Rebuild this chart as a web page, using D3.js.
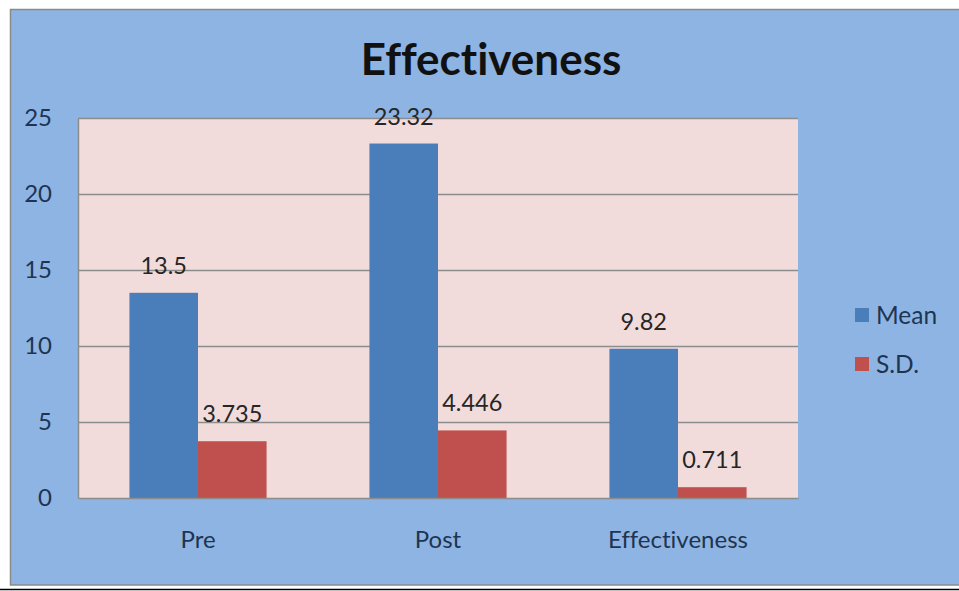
<!DOCTYPE html>
<html>
<head>
<meta charset="utf-8">
<script src="https://cdn.jsdelivr.net/npm/d3@7"></script>
<style>
  html, body { margin: 0; padding: 0; background: #fff; }
  svg { display: block; }
  text { font-family: Lato, "Open Sans", sans-serif; font-variant-ligatures: none; }
</style>
</head>
<body>
<svg id="chart" width="959" height="591"></svg>
<script>
const title = "Effectiveness";
const categories = ["Pre", "Post", "Effectiveness"];
const seriesNames = ["Mean", "S.D."];
const meanValues = [13.5, 23.32, 9.82];
const sdValues = [3.735, 4.446, 0.711];
const meanLabels = ["13.5", "23.32", "9.82"];
const sdLabels = ["3.735", "4.446", "0.711"];
const yTicks = [0, 5, 10, 15, 20, 25];

const colors = { "Mean": "#4A7EBB", "S.D.": "#C0504D" };
const seriesValues = { "Mean": meanValues, "S.D.": sdValues };
const seriesLabels = { "Mean": meanLabels, "S.D.": sdLabels };

const svg = d3.select("#chart");
const W = 959, H = 591;
const plot = { left: 78, right: 798, top: 118, bottom: 498 };

// outer chart background
svg.append("rect").attr("x", 10.5).attr("y", 9.5).attr("width", 960).attr("height", 575.5)
  .attr("fill", "#8EB4E3").attr("stroke", "#8A8A8A").attr("stroke-width", 1.5);
svg.append("line").attr("x1", 0).attr("x2", W).attr("y1", 589.5).attr("y2", 589.5)
  .attr("stroke", "#000").attr("stroke-width", 1.5);

// title
svg.append("text").attr("x", 491).attr("y", 75).attr("text-anchor", "middle")
  .attr("font-size", 44).attr("font-weight", "bold").attr("fill", "#111")
  .text(title);

const x = d3.scaleBand().domain(categories).range([plot.left, plot.right]).padding(0);
const x1 = d3.scaleBand().domain(seriesNames).range([0, x.bandwidth()]).paddingInner(0).paddingOuter(0.75);
const y = d3.scaleLinear().domain([0, 25]).range([plot.bottom, plot.top]);

// plot area
svg.append("rect").attr("x", plot.left).attr("y", plot.top)
  .attr("width", plot.right - plot.left).attr("height", plot.bottom - plot.top)
  .attr("fill", "#F2DCDB");

// gridlines
svg.append("g").selectAll("line").data(yTicks.filter(d => d > 0)).join("line")
  .attr("x1", plot.left).attr("x2", plot.right)
  .attr("y1", d => Math.round(y(d)) + 0.5).attr("y2", d => Math.round(y(d)) + 0.5)
  .attr("stroke", "#8C8C8C").attr("stroke-width", 1.5);

// y axis
const yAxis = svg.append("g").attr("transform", `translate(${plot.left},0)`)
  .call(d3.axisLeft(y).tickValues(yTicks).tickSize(0).tickPadding(26));
yAxis.select(".domain").attr("stroke", "#8C8C8C").attr("stroke-width", 1.5);
yAxis.selectAll("text").attr("font-size", 24).attr("fill", "#1F3450")
  .attr("font-family", "Lato, 'Open Sans', sans-serif");

// bars
const groups = svg.append("g").selectAll("g").data(categories).join("g")
  .attr("transform", d => `translate(${x(d)},0)`);
seriesNames.forEach(s => {
  groups.append("rect")
    .attr("x", x1(s)).attr("width", x1.bandwidth())
    .attr("y", (d, i) => y(seriesValues[s][i]))
    .attr("height", (d, i) => y(0) - y(seriesValues[s][i]))
    .attr("fill", colors[s]);
  groups.append("text")
    .attr("x", x1(s) + x1.bandwidth() / 2)
    .attr("y", (d, i) => y(seriesValues[s][i]) - 19)
    .attr("text-anchor", "middle").attr("font-size", 23.5).attr("fill", "#262626")
    .text((d, i) => seriesLabels[s][i]);
});

// x axis
const xAxis = svg.append("g").attr("transform", `translate(0,${plot.bottom})`)
  .call(d3.axisBottom(x).tickSize(0).tickPadding(0));
xAxis.select(".domain").attr("stroke", "#8C8C8C").attr("stroke-width", 1.5);
xAxis.selectAll("text").attr("font-size", 24).attr("fill", "#1F3450")
  .attr("dy", null).attr("y", 50)
  .attr("font-family", "Lato, 'Open Sans', sans-serif");

// legend
const legend = svg.append("g").selectAll("g").data(seriesNames).join("g")
  .attr("transform", (d, i) => `translate(855,${308 + i * 49})`);
legend.append("rect").attr("width", 14).attr("height", 14).attr("fill", d => colors[d]);
legend.append("text").attr("x", 21).attr("y", 16).attr("font-size", 24.5)
  .attr("fill", "#1F3450").text(d => d);
</script>
</body>
</html>
